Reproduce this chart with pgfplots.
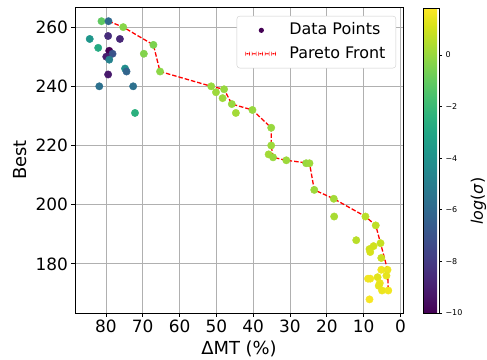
\documentclass[border=0pt]{standalone}
\usepackage{pgfplots}
\pgfplotsset{compat=1.18}
\usepackage{fontspec}
\setmainfont{DejaVu Sans}
\definecolor{gridgray}{RGB}{176,176,176}
\definecolor{vpurple}{RGB}{68,1,84}
\definecolor{leggray}{RGB}{204,204,204}
\definecolor{pfred}{RGB}{255,0,0}
\pgfplotsset{
  mylinelegend/.style={legend image code/.code={%
    \path[draw=none, fill=none] (0bp,0bp) -- (32bp,0bp);%
    \fill[pfred, draw=none] (0bp,-0.65bp) rectangle (4.5bp,0.65bp);%
    \fill[pfred, draw=none] (6.5bp,-0.65bp) rectangle (11bp,0.65bp);%
    \fill[pfred, draw=none] (13bp,-0.65bp) rectangle (17.5bp,0.65bp);%
    \fill[pfred, draw=none] (19.5bp,-0.65bp) rectangle (24bp,0.65bp);%
    \fill[pfred, draw=none] (26bp,-0.65bp) rectangle (30.5bp,0.65bp);}},
  mydotlegend/.style={legend image code/.code={\path[draw=none, fill=none] (0bp,0bp) -- (32bp,0bp);\fill[vpurple, draw=none] (16bp,0bp) circle (2.6bp);}},
}
\begin{document}
\begin{tikzpicture}
\begin{axis}[
  name=main,
  at={(0,0)}, anchor=south west,
  scale only axis, width=328bp, height=306bp,
  x dir=reverse,
  xmin=-0.7, xmax=88.4, ymin=163.4, ymax=266.8,
  xtick={0,10,...,80}, ytick={180,200,...,260},
  xtick pos=left, ytick pos=left,
  tick align=outside, major tick length=3.5bp,
  tick style={black, line width=0.8bp},
  grid=major, major grid style={gridgray, line width=0.8bp},
  axis line style={black, line width=0.8bp},
  ticklabel style={font=\fontsize{17}{20}\selectfont},
  /pgf/number format/assume math mode=true,
  xlabel={ΔMT (\%)}, ylabel={Best},
  label style={font=\fontsize{18}{21}\selectfont},
  xlabel style={at={(axis description cs:0.5,0)}, anchor=center, yshift=-36bp},
  ylabel style={at={(axis description cs:-0.1677,0.5)}, anchor=center},
  colormap/viridis,
  point meta min=-10, point meta max=1.82,
  colorbar,
  colorbar style={
    at={(parent axis.north east)}, anchor=north west, xshift=11.5bp, yshift=-1bp,
    scale only axis, width=16bp, height=305bp,
    grid=none,
    ytick={-10,-8,...,0}, yticklabels={−10,−8,−6,−4,−2,0},
    ytick pos=right, yticklabel pos=right,
    tick align=outside, major tick length=3bp,
    tick style={black, line width=0.8bp},
    axis line style={black, line width=0.8bp},
    yticklabel style={font=\fontsize{8}{10}\selectfont},
  },
  legend style={at={(axis description cs:0.979,0.971)}, anchor=north east,
    font=\fontsize{16}{19}\selectfont, draw=leggray, rounded corners=3bp,
    fill=white,
    inner xsep=8.5bp, inner ysep=4.5bp, row sep=4bp, column sep=10bp,
    nodes={inner sep=2bp, text height=12bp, text depth=3.5bp}},
  legend cell align=left,
]
\addplot[scatter, only marks, mark=*, mark size=3.7bp, scatter src=explicit,
  scatter/use mapped color={draw=mapped color, fill=mapped color},
  mydotlegend]
  table[meta=c] {
x y c
81.2 262 -1.1
79.3 262 -6.0
75.3 260 -0.3
84.4 256 -3.8
79.4 257 -8.5
76.2 256 -8.7
82.1 253 -2.8
79.1 252 -10.0
78.2 251 -7.0
79.9 250 -9.0
79.1 249 -4.8
67.1 254 -0.5
69.7 251 -0.4
74.8 246 -4.2
74.4 245 -6.2
79.4 244 -9.2
65.3 245 -0.2
81.8 240 -5.6
72.6 240 -5.6
72.1 231 -2.5
51.4 240 0.0
50.1 238 0.1
47.9 239 0.0
48.3 236 0.1
45.8 234 0.0
44.7 231 0.2
40.2 232 0.0
35.1 226 0.0
35.1 220 0.1
35.8 217 0.2
34.6 216 0.0
31.0 215 0.1
25.6 214 0.0
24.7 214 0.1
23.4 205 0.1
18.1 202 0.2
18.0 196 0.3
9.5 196 0.6
6.7 193 0.7
12.0 188 0.6
5.4 187 0.8
7.3 186 1.0
8.4 185 1.0
8.2 184 1.1
5.2 182 0.9
5.2 178 1.6
3.5 178 1.5
3.8 176 1.4
6.2 175.5 1.3
8.8 175 1.6
8.2 175 1.6
5.6 173.5 1.5
5.9 172.6 1.4
5.0 171 1.5
3.3 171 1.6
8.4 168 1.7
};
\addlegendentry{Data Points}
\addplot[pfred, line width=1.3bp, dash pattern=on 4.5bp off 2bp, mylinelegend]
  table {
x y
79.3 262
75.3 260
67.1 254
65.3 245
51.4 240
47.9 239
45.8 234
40.2 232
35.1 226
35.1 220
34.6 216
31.0 215
24.7 214
23.4 205
18.1 202
9.5 196
6.7 193
5.4 187
3.5 178
3.3 171
};
\addlegendentry{Pareto Front}
\end{axis}
\node[rotate=90, font=\fontsize{16}{19}\selectfont] at (403.5bp,112bp) {\textit{log}(\textit{σ})};
\pgfresetboundingbox
\path[use as bounding box] (-75bp,-47bp) rectangle (412bp,313bp);
\end{tikzpicture}
\end{document}
